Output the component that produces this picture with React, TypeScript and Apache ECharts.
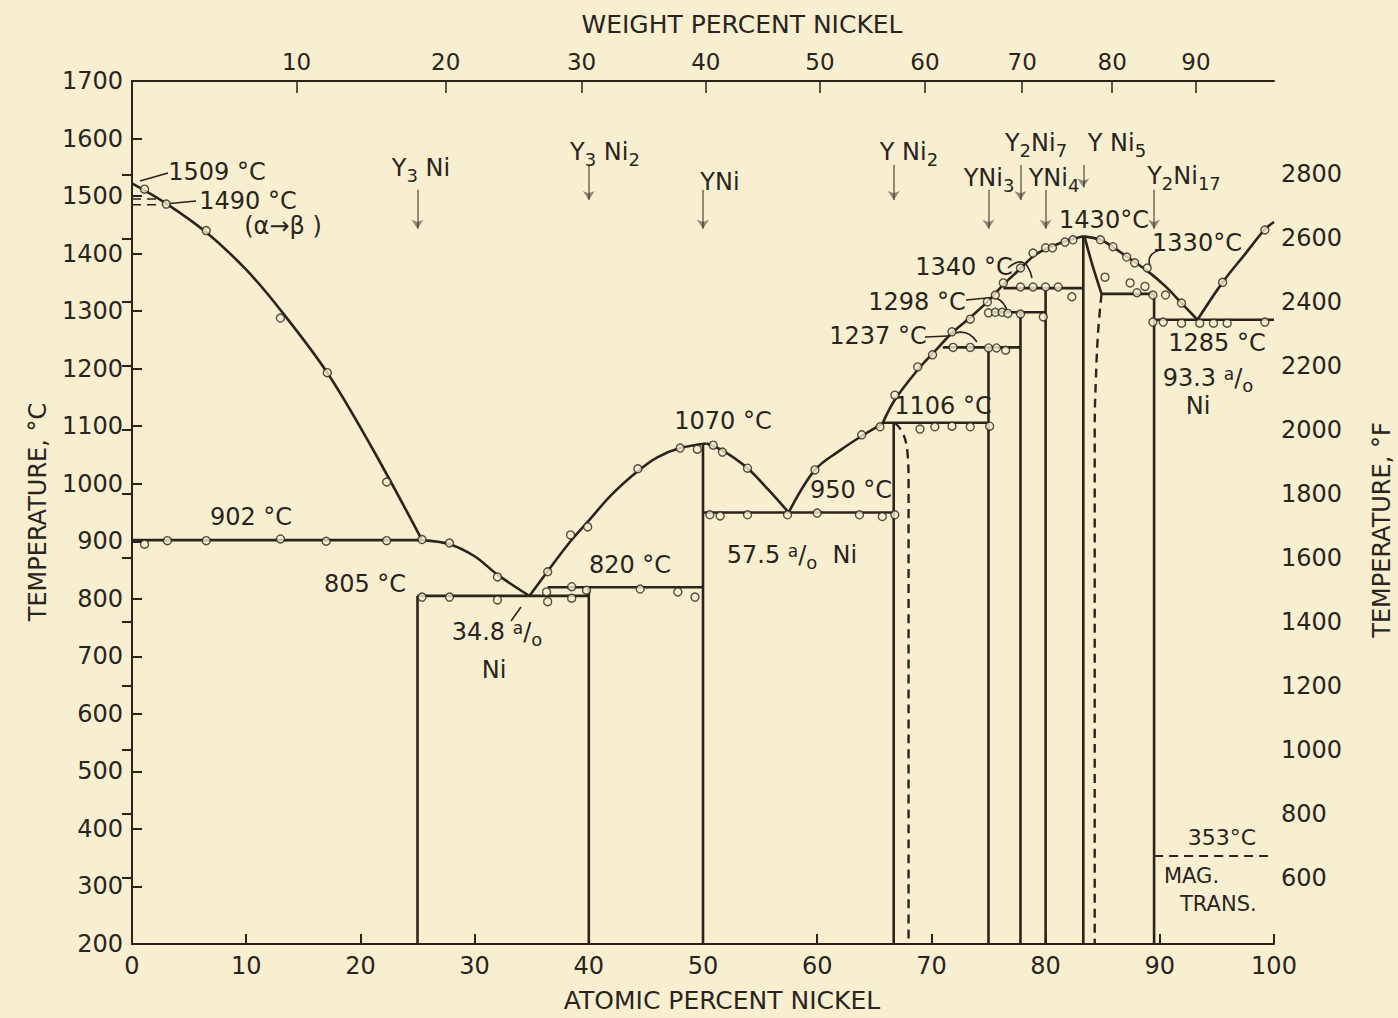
import React, { useEffect, useRef } from "react";
import * as echarts from "echarts";

const INK = "#2b241d";
const PAPER = "#f8efd0";
const FONT = "DejaVu Sans";

// ---------- axes ----------
const atomicRange = [0, 100];
const celsiusRange = [200, 1700];
const weightPercentTicks = [10, 20, 30, 40, 50, 60, 70, 80, 90];
const fahrenheitTicks = [600, 800, 1000, 1200, 1400, 1600, 1800, 2000, 2200, 2400, 2600, 2800];
const NI_MASS = 58.69;
const Y_MASS = 88.906;
const wtToAt = (w: number) => ((w / NI_MASS) / (w / NI_MASS + (100 - w) / Y_MASS)) * 100;
const atToWt = (a: number) => ((a * NI_MASS) / (a * NI_MASS + (100 - a) * Y_MASS)) * 100;
const fToC = (f: number) => (f - 32) / 1.8;
const cToF = (c: number) => c * 1.8 + 32;

// ---------- liquidus branches (at% Ni, °C) ----------
const liquidusYRich = [[0, 1522], [3, 1487], [6.5, 1437], [10, 1372], [13, 1302], [17.1, 1193], [21, 1063], [25.4, 902]];
const liquidusToE1 = [[25.4, 902], [27.8, 895], [30, 874], [32, 842], [34.8, 805]];
const liquidusToYNi = [[34.8, 805], [36.4, 848], [38.4, 900], [40, 936], [42, 981], [44.3, 1022], [46, 1046], [48, 1062], [50.3, 1070]];
const liquidusYNiToE2 = [[50.3, 1070], [51.7, 1058], [53.9, 1027], [55.7, 990], [57.5, 950]];
const liquidusE2ToYNi2 = [[57.5, 950], [59.8, 1024], [62, 1058], [63.9, 1083], [65.7, 1104]];
const liquidusToYNi5 = [[65.7, 1104], [66.8, 1146], [68.8, 1198], [70.1, 1226], [71.8, 1262], [73.4, 1289], [74.9, 1316], [76.3, 1346], [77.8, 1374], [78.9, 1395], [80, 1408], [81.7, 1421], [83.3, 1430]];
const liquidusYNi5ToE3 = [[83.3, 1430], [84.8, 1424], [86, 1410], [87.1, 1395], [88.9, 1370], [90.5, 1343], [91.9, 1314], [93.3, 1285]];
const liquidusToNi = [[93.3, 1285], [95.5, 1350], [97.5, 1400], [99.2, 1442], [100, 1455]];

// ---------- invariant isotherms ----------
const isothermTemps = [902, 805, 820, 950, 1106, 1237, 1298, 1340, 1330, 1285];
const isothermFrom = [0, 25, 36.4, 50, 65.7, 71, 75.3, 76.3, 84.9, 89.5];
const isothermTo = [25.4, 40, 50, 66.7, 75, 77.8, 80, 83.3, 89.5, 100];

// ---------- compounds ----------
const compoundLabels = ["Y{s|3} Ni", "Y{s|3} Ni{s|2}", "YNi", "Y Ni{s|2}", "YNi{s|3}", "Y{s|2}Ni{s|7}", "YNi{s|4}", "Y Ni{s|5}", "Y{s|2}Ni{s|17}"];
const compoundAtPct = [25, 40, 50, 66.7, 75, 77.8, 80, 83.3, 89.5];
const compoundTopT = [805, 820, 1070, 1106, 1237, 1298, 1340, 1430, 1330];
const solidusBottomT = 200;

// ---------- other boundaries ----------
const solvusYNi2 = [[66.8, 1106], [67.5, 1088], [67.9, 1055], [68, 1000], [68, 200]];
const solidusYNi5 = [[83.4, 1430], [84.1, 1380], [84.9, 1330]];
const solvusYNi5 = [[84.9, 1330], [84.6, 1265], [84.4, 1180], [84.3, 1100], [84.3, 200]];
const magneticTransition = [[89.5, 353], [100, 353]];
const yTransitionA = [[0, 1495], [2.2, 1495]];
const yTransitionB = [[0, 1485], [2.8, 1485]];

// ---------- measured thermal-analysis points ----------
const measuredPoints = [
  [1.1, 1512], [3, 1486], [6.5, 1440], [13, 1288], [17.1, 1193], [22.3, 1003],
  [1.1, 895], [3.1, 901], [6.5, 901], [13, 904], [17, 900], [22.3, 901], [25.4, 903], [27.8, 897],
  [25.4, 803], [27.8, 803], [32, 798], [32, 838], [36.3, 812], [36.4, 795], [38.5, 821], [38.5, 801], [39.8, 815], [44.5, 817], [47.8, 812], [49.3, 803],
  [36.4, 847], [38.4, 911], [39.9, 925], [44.3, 1026], [48, 1062], [49.5, 1060], [50.9, 1067], [51.7, 1055], [53.9, 1027],
  [50.6, 946], [51.5, 944], [53.9, 946], [57.4, 946], [60, 949], [63.7, 946], [65.7, 943], [66.8, 946],
  [59.8, 1024], [63.9, 1085], [65.5, 1099], [66.8, 1154], [68.8, 1203], [70.1, 1224], [71.8, 1264], [73.4, 1286], [74.9, 1316], [75.6, 1328], [76.3, 1349], [77.8, 1375],
  [69, 1095], [70.3, 1099], [71.8, 1100], [73.4, 1099], [75.1, 1100],
  [71.9, 1237], [73.4, 1237], [75, 1236], [75.7, 1236], [76.5, 1232],
  [75, 1297], [75.6, 1298], [76.2, 1298], [76.7, 1296], [77.8, 1295], [79.8, 1290],
  [77.8, 1342], [78.9, 1342], [80, 1342], [81.1, 1342], [82.3, 1325],
  [78.9, 1401], [80, 1410], [80.6, 1410], [81.7, 1420], [82.4, 1424], [84.8, 1424], [85.9, 1412], [87.1, 1394], [87.8, 1384], [88.9, 1375], [91.9, 1314],
  [85.2, 1359], [87.4, 1349], [88, 1332], [88.7, 1343], [89.4, 1328], [90.5, 1328],
  [89.4, 1281], [90.3, 1281], [91.9, 1279], [93.5, 1279], [94.7, 1279], [95.9, 1279], [99.2, 1281],
  [95.5, 1350], [99.2, 1441],
];

const rich = {
  s: { fontSize: 18, fontFamily: FONT, fill: INK, padding: [14, 0, 0, 0] },
  p: { fontSize: 17, fontFamily: FONT, fill: INK, padding: [0, 0, 9, 0] },
};

function txt(text: string, x: number, y: number, size = 24, align = "center", rotation = 0) {
  return {
    type: "text",
    x,
    y,
    rotation,
    silent: true,
    style: {
      text,
      fontSize: size,
      fontFamily: FONT,
      fill: INK,
      align,
      verticalAlign: "middle",
      rich,
    },
  };
}

function seg(pts: number[][], extra: any = {}) {
  return {
    type: "line",
    data: pts,
    symbol: "none",
    silent: true,
    smooth: extra.smooth ?? 0,
    lineStyle: { color: INK, width: extra.width ?? 2.6, type: extra.dash ? [9, 6] : "solid" },
    z: 3,
  };
}

export default function App() {
  const ref = useRef<HTMLDivElement>(null);
  useEffect(() => {
    if (!ref.current) return;
    const chart = echarts.init(ref.current, null, { renderer: "svg" });

    const series: any[] = [];
    [liquidusYRich, liquidusToE1, liquidusToYNi, liquidusYNiToE2, liquidusE2ToYNi2, liquidusToYNi5, liquidusYNi5ToE3, liquidusToNi].forEach((b) =>
      series.push(seg(b, { smooth: 0.35 }))
    );
    isothermTemps.forEach((t, i) => series.push(seg([[isothermFrom[i], t], [isothermTo[i], t]])));
    compoundAtPct.forEach((x, i) => series.push(seg([[x, solidusBottomT], [x, compoundTopT[i]]])));
    series.push(seg(solidusYNi5, { smooth: 0.3 }));
    series.push(seg(solvusYNi2, { smooth: 0.4, dash: true, width: 2.4 }));
    series.push(seg(solvusYNi5, { smooth: 0.4, dash: true, width: 2.4 }));
    series.push(seg(magneticTransition, { dash: true, width: 2 }));
    series.push(seg(yTransitionA, { dash: true, width: 1.5 }));
    series.push(seg(yTransitionB, { dash: true, width: 1.5 }));
    series.push({
      type: "scatter",
      data: measuredPoints,
      symbol: "circle",
      symbolSize: 8,
      silent: true,
      itemStyle: { color: PAPER, borderColor: INK, borderWidth: 1.4 },
      z: 5,
    });

    // compound arrows (above each compound composition)
    const arrowHigh = [false, true, false, true, false, true, false, true, false];
    series.push({
      type: "lines",
      coordinateSystem: "cartesian2d",
      silent: true,
      symbol: ["none", "arrow"],
      symbolSize: [0, 9],
      lineStyle: { color: INK, width: 2 },
      data: compoundAtPct.map((x, i) => ({
        coords: arrowHigh[i] ? [[x, 1554], [x, i === 7 ? 1515 : 1493]] : [[x, 1511], [x, 1443]],
      })),
      z: 4,
    });

    const axisFont = { color: INK, fontFamily: FONT, fontSize: 24 };
    const option: any = {
      animation: false,
      backgroundColor: PAPER,
      grid: { left: 132, right: 124, top: 81, bottom: 74 },
      xAxis: [
        {
          type: "value",
          min: atomicRange[0],
          max: atomicRange[1],
          interval: 10,
          position: "bottom",
          axisLine: { lineStyle: { color: INK, width: 2 } },
          axisTick: { inside: true, length: 10, lineStyle: { color: INK, width: 2 } },
          axisLabel: { ...axisFont, margin: 10, formatter: (v: number) => String(v) },
          splitLine: { show: false },
        },
        {
          type: "value",
          min: atomicRange[0],
          max: atomicRange[1],
          position: "top",
          axisLine: { lineStyle: { color: INK, width: 2 } },
          axisTick: { inside: true, length: 12, customValues: weightPercentTicks.map(wtToAt), lineStyle: { color: INK, width: 1.5 } },
          axisLabel: {
            ...axisFont,
            fontSize: 23,
            margin: 8,
            customValues: weightPercentTicks.map(wtToAt),
            formatter: (v: number) => String(Math.round(atToWt(v))),
          },
          splitLine: { show: false },
        },
      ],
      yAxis: [
        {
          type: "value",
          min: celsiusRange[0],
          max: celsiusRange[1],
          interval: 100,
          position: "left",
          axisLine: { show: true, lineStyle: { color: INK, width: 2 } },
          axisTick: { show: true, inside: true, length: 10, lineStyle: { color: INK, width: 2 } },
          axisLabel: { ...axisFont, margin: 9, formatter: (v: number) => String(v) },
          splitLine: { show: false },
        },
        {
          type: "value",
          min: celsiusRange[0],
          max: celsiusRange[1],
          position: "right",
          axisLine: { show: true, lineStyle: { color: INK, width: 2 } },
          axisTick: { show: true, inside: true, length: 10, customValues: fahrenheitTicks.map(fToC), lineStyle: { color: INK, width: 2 } },
          axisLabel: {
            ...axisFont,
            margin: 7,
            customValues: fahrenheitTicks.map(fToC),
            formatter: (v: number) => String(Math.round(cToF(v))),
          },
          splitLine: { show: false },
        },
      ],
      series,
      graphic: [
        // axis titles
        txt("WEIGHT PERCENT NICKEL", 742, 24, 25),
        txt("ATOMIC PERCENT NICKEL", 722, 1000, 25),
        txt("TEMPERATURE, °C", 38, 512, 24, "center", Math.PI / 2),
        txt("TEMPERATURE, °F", 1382, 530, 24, "center", Math.PI / 2),
        // compound labels
        txt(compoundLabels[0], 421, 168),
        txt(compoundLabels[1], 605, 152),
        txt(compoundLabels[2], 720, 182),
        txt(compoundLabels[3], 909, 152),
        txt(compoundLabels[4], 989, 178),
        txt(compoundLabels[5], 1036, 143),
        txt(compoundLabels[6], 1054, 178),
        txt(compoundLabels[7], 1117, 143),
        txt(compoundLabels[8], 1184, 176),
        // temperature annotations
        txt("1509 °C", 217, 172),
        txt("1490 °C", 248, 201),
        txt("(α→β )", 283, 226),
        txt("902 °C", 251, 517),
        txt("805 °C", 365, 584),
        txt("34.8 {p|a}/{s|o}", 497, 632),
        txt("Ni", 494, 670),
        txt("820 °C", 630, 565),
        txt("1070 °C", 723, 421),
        txt("57.5 {p|a}/{s|o}  Ni", 792, 555),
        txt("950 °C", 851, 490),
        txt("1106 °C", 943, 406),
        txt("1237 °C", 878, 336),
        txt("1298 °C", 917, 302),
        txt("1340 °C", 964, 267),
        txt("1430°C", 1104, 220),
        txt("1330°C", 1197, 243),
        txt("1285 °C", 1217, 343),
        txt("93.3 {p|a}/{s|o}", 1208, 378),
        txt("Ni", 1198, 406),
        txt("353°C", 1222, 837, 22),
        txt("MAG.", 1164, 876, 21, "left"),
        txt("TRANS.", 1180, 904, 21, "left"),
        // leader lines
        { type: "polyline", silent: true, shape: { points: [[140, 181], [168, 173]] }, style: { stroke: INK, lineWidth: 1.6, fill: null } },
        { type: "polyline", silent: true, shape: { points: [[165, 204], [196, 201]] }, style: { stroke: INK, lineWidth: 1.6, fill: null } },
        { type: "line", silent: true, shape: { x1: 521, y1: 607, x2: 511, y2: 621 }, style: { stroke: INK, lineWidth: 1.6 } },
        { type: "polyline", silent: true, shape: { points: [[925, 337], [948, 336]] }, style: { stroke: INK, lineWidth: 1.6, fill: null } },
        { type: "bezierCurve", silent: true, shape: { x1: 948, y1: 336, cpx1: 966, cpy1: 326, x2: 977, y2: 342 }, style: { stroke: INK, lineWidth: 1.6, fill: null } },
        { type: "polyline", silent: true, shape: { points: [[966, 300], [987, 298]] }, style: { stroke: INK, lineWidth: 1.6, fill: null } },
        { type: "bezierCurve", silent: true, shape: { x1: 987, y1: 298, cpx1: 1001, cpy1: 295, x2: 1007, y2: 310 }, style: { stroke: INK, lineWidth: 1.6, fill: null } },
        { type: "bezierCurve", silent: true, shape: { x1: 1008, y1: 268, cpx1: 1026, cpy1: 252, x2: 1032, y2: 278 }, style: { stroke: INK, lineWidth: 1.6, fill: null } },
        { type: "bezierCurve", silent: true, shape: { x1: 1160, y1: 250, cpx1: 1146, cpy1: 254, x2: 1150, y2: 266 }, style: { stroke: INK, lineWidth: 1.6, fill: null } },
      ],
    };
    chart.setOption(option);
    return () => chart.dispose();
  }, []);

  return (
    <div
      ref={ref}
      style={{ position: "absolute", left: 0, top: 0, width: 1398, height: 1018, background: PAPER }}
    />
  );
}
